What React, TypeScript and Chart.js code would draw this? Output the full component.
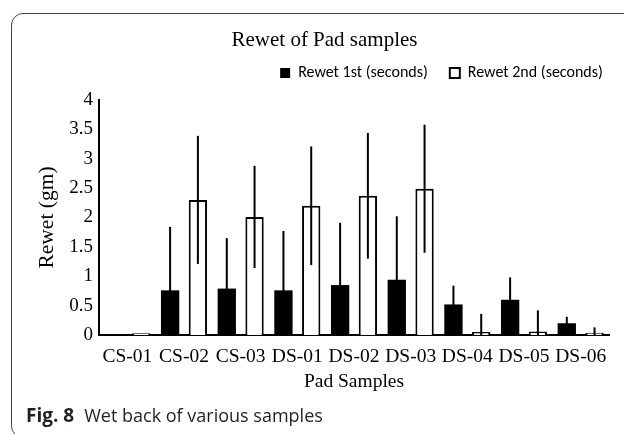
import React, { useEffect, useRef } from 'react';
import { Chart, registerables } from 'chart.js';

Chart.register(...registerables);

const TITLE = 'Rewet of Pad samples';
const X_TITLE = 'Pad Samples';
const Y_TITLE = 'Rewet (gm)';
const CAPTION_BOLD = 'Fig. 8';
const CAPTION_TEXT = 'Wet back of various samples';

const CATEGORIES = ['CS-01', 'CS-02', 'CS-03', 'DS-01', 'DS-02', 'DS-03', 'DS-04', 'DS-05', 'DS-06'];
const SERIES_NAMES = ['Rewet 1st (seconds)', 'Rewet 2nd (seconds)'];
const REWET_1ST = [0, 0.76, 0.79, 0.76, 0.85, 0.94, 0.52, 0.6, 0.2];
const REWET_1ST_ERR = [0, 1.08, 0.86, 1.01, 1.06, 1.08, 0.32, 0.38, 0.11];
const REWET_2ND = [0.03, 2.3, 2.01, 2.2, 2.37, 2.49, 0.05, 0.06, 0.04];
const REWET_2ND_ERR = [0, 1.09, 0.87, 1.01, 1.07, 1.09, 0.31, 0.36, 0.09];
const Y_TICKS = [0, 0.5, 1, 1.5, 2, 2.5, 3, 3.5, 4];
const Y_TICK_LABELS = ['0', '0.5', '1', '1.5', '2', '2.5', '3', '3.5', '4'];

const SERIF = "'Liberation Serif', 'Times New Roman', serif";
const LEGEND_FONT = "Carlito, Lato, 'Liberation Sans', sans-serif";

const titlePlugin = {
  id: 'offsetTitle',
  afterDraw(chart: any) {
    const ctx = chart.ctx;
    ctx.save();
    ctx.font = `21px ${SERIF}`;
    ctx.fillStyle = '#000';
    ctx.textAlign = 'center';
    ctx.textBaseline = 'alphabetic';
    ctx.fillText(TITLE, 324.5, 45.5);
    ctx.restore();
  },
};

const errorBarPlugin = {
  id: 'errorBars',
  afterDatasetsDraw(chart: any) {
    const ctx = chart.ctx;
    const yScale = chart.scales.y;
    chart.data.datasets.forEach((ds: any, i: number) => {
      const meta = chart.getDatasetMeta(i);
      const errs: number[] = ds.errors || [];
      meta.data.forEach((el: any, j: number) => {
        const v = ds.data[j] as number;
        const e = errs[j];
        if (!e) return;
        const top = yScale.getPixelForValue(v + e);
        const bot = yScale.getPixelForValue(Math.max(yScale.min, v - e));
        ctx.save();
        ctx.strokeStyle = '#000';
        ctx.lineWidth = 2;
        ctx.beginPath();
        ctx.moveTo(el.x, top);
        ctx.lineTo(el.x, bot);
        ctx.stroke();
        ctx.restore();
      });
    });
  },
};

export default function App() {
  const canvasRef = useRef<HTMLCanvasElement | null>(null);

  useEffect(() => {
    if (!canvasRef.current) return;
    const chart = new Chart(canvasRef.current, {
      type: 'bar',
      data: {
        labels: CATEGORIES,
        datasets: [
          {
            label: SERIES_NAMES[0],
            data: REWET_1ST,
            errors: REWET_1ST_ERR,
            backgroundColor: '#000',
            borderColor: '#000',
            borderWidth: 0,
            categoryPercentage: 0.98,
            barPercentage: 0.66,
          } as any,
          {
            label: SERIES_NAMES[1],
            data: REWET_2ND,
            errors: REWET_2ND_ERR,
            backgroundColor: '#fff',
            borderColor: '#000',
            borderWidth: 2,
            categoryPercentage: 0.98,
            barPercentage: 0.66,
          } as any,
        ],
      },
      options: {
        responsive: false,
        animation: false,
        devicePixelRatio: 1,
        layout: { padding: { left: 20, right: 20, top: 43, bottom: 34 } },
        plugins: {
          title: { display: false },
          subtitle: {
            display: true,
            text: '',
            position: 'top',
            weight: 500,
            font: { size: 1 },
            padding: { top: 0, bottom: 7.8 },
          } as any,
          legend: {
            display: true,
            position: 'top',
            align: 'center',
            labels: {
              color: '#000',
              font: { family: LEGEND_FONT, size: 16 },
              boxWidth: 10,
              boxHeight: 10,
              padding: 22,
            },
          },
          tooltip: { enabled: false },
        },
        scales: {
          x: {
            grid: { display: false, drawTicks: false },
            border: { display: true, color: '#000', width: 2 },
            ticks: {
              color: '#000',
              font: { family: SERIF, size: 19.5 },
              padding: 10,
              maxRotation: 0,
              minRotation: 0,
              autoSkip: false,
            },
            title: {
              display: true,
              text: X_TITLE,
              color: '#000',
              font: { family: SERIF, size: 19.5 },
              padding: { top: 0, bottom: 6.5 },
            },
            afterFit: (s: any) => {
              s.height = 65;
            },
          },
          y: {
            min: 0,
            max: 4,
            afterBuildTicks: (s: any) => {
              s.ticks = Y_TICKS.map((v) => ({ value: v }));
            },
            grid: { display: false, drawTicks: false },
            border: { display: true, color: '#000', width: 2 },
            ticks: {
              color: '#000',
              font: { family: SERIF, size: 19 },
              padding: 6,
              callback: (value: any) => {
                const idx = Y_TICKS.indexOf(Number(value));
                return idx >= 0 ? Y_TICK_LABELS[idx] : '';
              },
            },
            title: {
              display: true,
              text: Y_TITLE,
              color: '#000',
              font: { family: SERIF, size: 21.5 },
              padding: { top: 14, bottom: 0 },
            },
            afterFit: (s: any) => {
              s.width = 79;
            },
          },
          y2: {
            position: 'right',
            display: true,
            grid: { display: false, drawTicks: false },
            border: { display: false },
            ticks: { display: false },
            afterFit: (s: any) => {
              s.width = 254;
            },
          },
        },
      } as any,
      plugins: [titlePlugin, errorBarPlugin],
    });
    return () => chart.destroy();
  }, []);

  return (
    <div
      style={{
        position: 'fixed',
        left: 0,
        top: 0,
        width: 624,
        height: 434,
        overflow: 'hidden',
        background: '#fff',
      }}
    >
      <div
        style={{
          position: 'absolute',
          left: 11,
          top: 13,
          width: 700,
          height: 425,
          border: '1.5px solid #444',
          borderRadius: 12,
          boxSizing: 'border-box',
        }}
      />
      <canvas
        ref={canvasRef}
        width={883}
        height={434}
        style={{ position: 'absolute', left: 0, top: 0, width: 883, height: 434 }}
      />
      <div
        style={{
          position: 'absolute',
          left: 26,
          top: 405.7,
          fontFamily: "'Open Sans', 'Noto Sans', sans-serif",
          fontSize: 18,
          lineHeight: '18px',
          color: '#231f20',
          whiteSpace: 'nowrap',
        }}
      >
        <b style={{ fontSize: 19 }}>{CAPTION_BOLD}</b>
        <span style={{ marginLeft: 10 }}>{CAPTION_TEXT}</span>
      </div>
    </div>
  );
}
